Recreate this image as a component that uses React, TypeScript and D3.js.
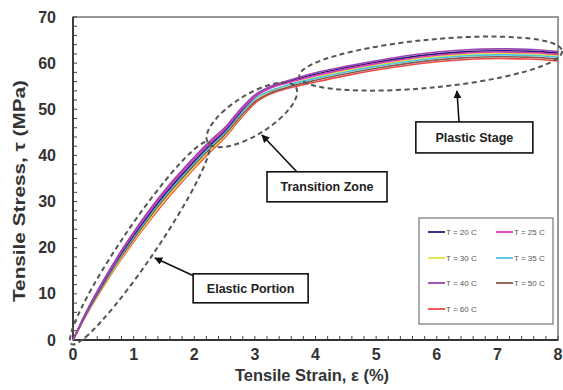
import React from "react";
import * as d3 from "d3";

const strain = [0, 0.25, 0.5, 0.75, 1, 1.25, 1.5, 1.75, 2, 2.25, 2.5, 2.75, 3, 3.25, 3.5, 4, 4.5, 5, 5.5, 6, 6.5, 7, 7.5, 8];

const t20 = [0, 6.65, 12.4, 17.8, 22.65, 27.15, 31.35, 35.15, 38.75, 42.15, 45.25, 49.2, 52.7, 54.65, 55.8, 57.6, 59.0, 60.2, 61.2, 62.0, 62.5, 62.7, 62.6, 62.2];
const t25 = [0, 6.8, 12.65, 18.1, 23.0, 27.55, 31.85, 35.65, 39.25, 42.55, 45.6, 49.45, 52.75, 54.55, 55.6, 57.3, 58.7, 59.9, 60.9, 61.7, 62.2, 62.4, 62.3, 61.9];
const t30 = [0, 6.2, 11.7, 16.85, 21.55, 25.95, 30.1, 33.9, 37.5, 40.95, 44.1, 48.1, 51.7, 53.8, 55.05, 56.9, 58.4, 59.6, 60.6, 61.4, 61.9, 62.1, 62.0, 61.6];
const t35 = [0, 6.5, 12.2, 17.5, 22.3, 26.8, 31.0, 34.8, 38.4, 41.8, 44.9, 48.8, 52.2, 54.0, 55.1, 56.7, 58.1, 59.3, 60.3, 61.1, 61.6, 61.8, 61.7, 61.3];
const t40 = [0, 6.9, 12.9, 18.4, 23.35, 28.0, 32.25, 36.05, 39.65, 43.0, 46.0, 49.85, 53.1, 54.9, 56.0, 57.9, 59.3, 60.5, 61.6, 62.4, 62.9, 63.1, 63.0, 62.5];
const t50 = [0, 6.35, 11.95, 17.2, 21.9, 26.4, 30.55, 34.35, 37.95, 41.35, 44.45, 48.3, 51.65, 53.5, 54.6, 56.3, 57.7, 58.9, 59.9, 60.7, 61.2, 61.4, 61.3, 60.9];
const t60 = [0, 6.1, 11.5, 16.6, 21.25, 25.6, 29.75, 33.55, 37.15, 40.6, 43.8, 47.75, 51.3, 53.3, 54.4, 55.9, 57.3, 58.5, 59.5, 60.3, 60.8, 61.0, 60.9, 60.5];

const seriesNames = ["T = 20 C", "T = 25 C", "T = 30 C", "T = 35 C", "T = 40 C", "T = 50 C", "T = 60 C"];
const seriesValues = [t20, t25, t30, t35, t40, t50, t60];
const seriesColors = ["#1c1f78", "#d838b0", "#e6e23a", "#4ec3df", "#9a45b0", "#8a5a52", "#ef4a45"];
// drawing order (bottom first)
const drawOrder = [6, 2, 5, 3, 0, 1, 4];

const xTicks = [0, 1, 2, 3, 4, 5, 6, 7, 8];
const yTicks = [0, 10, 20, 30, 40, 50, 60, 70];

export default function App() {
  const W = 563, H = 390;
  const x = d3.scaleLinear().domain([0, 8]).range([73, 558]);
  const y = d3.scaleLinear().domain([0, 70]).range([340, 17]);
  const line = d3.line<number>()
    .x((_, i) => x(strain[i]))
    .y((d) => y(d))
    .curve(d3.curveMonotoneX);

  const minorX = d3.range(0, 8.001, 0.2);
  const minorY = d3.range(0, 70.001, 2);
  const font = "'Liberation Sans', Arial, sans-serif";
  const dash = "5,3.5";

  const ellipses = [
    { cx: 1.105, cy: 21.0, rx: 122, ry: 17, rot: -55.8 },
    { cx: 2.95, cy: 48.8, rx: 52, ry: 20, rot: -32 },
    { cx: 5.9, cy: 59.9, rx: 132, ry: 24, rot: -5.5 },
  ];
  const boxes = [
    { label: "Plastic Stage", cx: 6.62, cy: 43.9, w: 117, h: 31, ax1: 459, ay1: 122, ax2: 457, ay2: 91 },
    { label: "Transition Zone", cx: 4.19, cy: 33.2, w: 120, h: 30, ax1: 297, ay1: 172, ax2: 262, ay2: 135 },
    { label: "Elastic Portion", cx: 2.93, cy: 11.2, w: 115, h: 29, ax1: 194, ay1: 276, ax2: 155, ay2: 258 },
  ];

  const legendCols = [428, 496];
  const legendRows = [232, 258, 283, 309];

  return (
    <div style={{ position: "absolute", left: 0, top: 0 }}>
      <svg width={W} height={H} style={{ display: "block", background: "#fff" }} fontFamily={font}>
        <defs>
          <marker id="ah" viewBox="0 0 10 10" refX="9" refY="5" markerWidth="5" markerHeight="5" orient="auto">
            <path d="M0,0 L10,5 L0,10 z" fill="#111" />
          </marker>
        </defs>
        {/* frame */}
        <rect x={x(0)} y={y(70)} width={x(8) - x(0)} height={y(0) - y(70)} fill="none" stroke="#777" strokeWidth={1.5} />
        <line x1={x(0)} x2={x(8)} y1={y(0)} y2={y(0)} stroke="#333" strokeWidth={1.8} />
        <line x1={x(0)} x2={x(0)} y1={y(0)} y2={y(70)} stroke="#333" strokeWidth={1.8} />
        {minorX.map((v, i) => (
          <line key={"mx" + i} x1={x(v)} x2={x(v)} y1={y(0)} y2={y(0) - 4} stroke="#444" strokeWidth={1} />
        ))}
        {minorY.map((v, i) => (
          <line key={"my" + i} x1={x(0)} x2={x(0) + 4} y1={y(v)} y2={y(v)} stroke="#444" strokeWidth={1} />
        ))}
        {xTicks.map((v) => (
          <text key={"xt" + v} x={x(v)} y={360} textAnchor="middle" fontSize={16} fontWeight="bold" fill="#333">{v}</text>
        ))}
        {yTicks.map((v) => (
          <text key={"yt" + v} x={56} y={y(v) + 5.5} textAnchor="end" fontSize={16} fontWeight="bold" fill="#333">{v}</text>
        ))}
        <text x={312} y={381} textAnchor="middle" fontSize={16.5} fontWeight="bold" fill="#333">Tensile Strain, ε (%)</text>
        <text transform={`translate(25,191) rotate(-90)`} textAnchor="middle" fontSize={16.5} fontWeight="bold" fill="#333"
          textLength={222} lengthAdjust="spacingAndGlyphs">Tensile Stress, τ (MPa)</text>

        {/* curves */}
        {drawOrder.map((k) => (
          <path key={"s" + k} d={line(seriesValues[k]) || ""} fill="none" stroke={seriesColors[k]} strokeWidth={1.6} />
        ))}

        {/* ellipses */}
        {ellipses.map((e, i) => (
          <ellipse key={"e" + i} cx={0} cy={0} rx={e.rx} ry={e.ry}
            transform={`translate(${x(e.cx)},${y(e.cy)}) rotate(${e.rot})`}
            fill="none" stroke="#555" strokeWidth={2} strokeDasharray={dash} />
        ))}

        {/* annotation boxes */}
        {boxes.map((b, i) => (
          <g key={"b" + i}>
            <line x1={b.ax1} y1={b.ay1} x2={b.ax2} y2={b.ay2} stroke="#111" strokeWidth={1.6} markerEnd="url(#ah)" />
            <rect x={x(b.cx) - b.w / 2} y={y(b.cy) - b.h / 2} width={b.w} height={b.h} fill="#fff" stroke="#111" strokeWidth={1.6} />
            <text x={x(b.cx)} y={y(b.cy) + 4.5} textAnchor="middle" fontSize={12.5} fontWeight="bold" fill="#222">{b.label}</text>
          </g>
        ))}

        {/* legend */}
        <rect x={419} y={218} width={134} height={106} fill="#fff" stroke="#777" strokeWidth={1.2} />
        {seriesNames.map((n, i) => {
          const cx = legendCols[i % 2];
          const cy = legendRows[Math.floor(i / 2)];
          return (
            <g key={"l" + i}>
              <line x1={cx} x2={cx + 17} y1={cy} y2={cy} stroke={seriesColors[i]} strokeWidth={1.8} />
              <text x={cx + 18} y={cy + 3} fontSize={8} fill="#555">{n}</text>
            </g>
          );
        })}
      </svg>
    </div>
  );
}
